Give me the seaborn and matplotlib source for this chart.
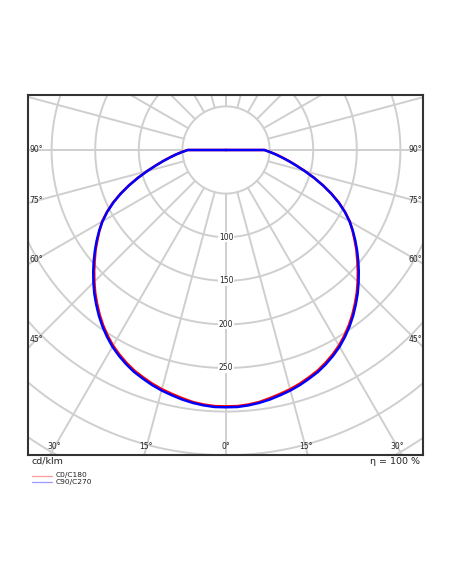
import numpy as np
import matplotlib
matplotlib.use("Agg")
import matplotlib.pyplot as plt
from matplotlib.lines import Line2D
import seaborn as sns

gamma = [0, 2.5, 5, 7.5, 10, 12.5, 15, 17.5, 20, 22.5, 25, 27.5, 30, 32.5, 35, 37.5, 40, 42.5, 45,
         47.5, 50, 52.5, 55, 57.5, 60, 62.5, 65, 67.5, 70, 72.5, 75, 77.5, 80, 82.5, 85, 87.5, 90, 95, 180]
c90_c270 = [295, 295, 294, 292.5, 290.5, 288, 285.5, 282.5, 279, 275.5, 271, 266, 260.5, 254, 247, 239.5,
            231.5, 223.5, 215, 206.5, 198, 189.5, 181, 172.5, 163.5, 153.5, 142.5, 130.5, 118, 105.5,
            93.5, 82.5, 73, 64.5, 57, 50, 44, 0, 0]
c0_c180 = [294, 294, 293, 291.5, 289, 286.5, 284, 281, 277.5, 274, 269.5, 264.5, 259, 252.5, 245.5, 238,
           230, 222, 213.5, 205, 196.5, 188.5, 180, 172, 164, 154, 143, 131, 118.5, 106, 94,
           83, 73.5, 65, 57.5, 50.5, 44, 0, 0]
serie_nomes = ['C0/C180', 'C90/C270']
serie_cores = ['#ff0000', '#0000ff']
anel_labels = [100, 150, 200, 250]
angulo_labels = [0, 15, 30, 45, 60, 75, 90]
eta_texto = 'η = 100 %'
unidade = 'cd/klm'

W, H = 452, 584
PX = 0.872  # pixels por cd/klm

sns.set_style('white')
fig = plt.figure(figsize=(W / 100, H / 100), dpi=100)
ax = fig.add_axes([28 / W, 1 - 455 / H, 395 / W, 360 / H])
xmin, xmax = -198 / PX, 197 / PX
ymin, ymax = -305 / PX, 55 / PX
ax.set_xlim(xmin, xmax)
ax.set_ylim(ymin, ymax)
ax.set_xticks([])
ax.set_yticks([])
for sp in ax.spines.values():
    sp.set_color('#333333')
    sp.set_linewidth(1.5)

# --- Grade polar ---
grid_kw = dict(color='#cfcfcf', lw=1.4, zorder=1)
t = np.linspace(0, 2 * np.pi, 400)
for r in range(50, 501, 50):
    ax.plot(r * np.cos(t), r * np.sin(t), **grid_kw)
for a in range(0, 360, 15):
    ar = np.radians(a)
    ax.plot([50 * np.sin(ar), 600 * np.sin(ar)], [-50 * np.cos(ar), -600 * np.cos(ar)], **grid_kw)


# --- Curvas ---
def polar_xy(g, v):
    g = np.radians(np.array(g, dtype=float))
    v = np.array(v, dtype=float)
    # lado esquerdo de 180 até 0, depois lado direito de 0 até 180
    x = np.concatenate([-(v * np.sin(g))[::-1], (v * np.sin(g))[1:]])
    y = np.concatenate([-(v * np.cos(g))[::-1], -(v * np.cos(g))[1:]])
    return x, y


for vals, cor in zip([c0_c180, c90_c270], serie_cores):
    x, y = polar_xy(gamma, vals)
    sns.lineplot(x=x, y=y, sort=False, estimator=None, color=cor, lw=1.8, ax=ax, zorder=3)

# --- Rótulos dos anéis ---
for r in anel_labels:
    ax.text(0, -r, str(r), ha='center', va='center', fontsize=5.5, color='#222222', zorder=4,
            bbox=dict(facecolor='white', edgecolor='none', pad=0.3))

# --- Rótulos dos ângulos (sobre o raio, 8 px para dentro da moldura) ---
ins = 8 / PX
for a in angulo_labels:
    ar = np.radians(a)
    for s in ([1] if a == 0 else [-1, 1]):
        yb = ymin + ins
        xb = s * (-yb) * np.tan(ar)
        xe = xmax - ins if s > 0 else xmin + ins
        if abs(xb) <= abs(xe):
            px, py = xb, yb
        else:
            px = xe
            py = -abs(xe) / np.tan(ar) if a < 90 else 0
        ax.text(px, py, f'{a}°', ha='center', va='center', fontsize=5.5, color='#222222', zorder=4)

# --- Textos externos ---
fig.text(32 / W, 1 - 461 / H, unidade, ha='left', va='center', fontsize=6.8, color='#222222')
fig.text(420 / W, 1 - 461 / H, eta_texto, ha='right', va='center', fontsize=6.8, color='#222222')

# --- Legenda ---
for i, (nome, cor) in enumerate(zip(serie_nomes, serie_cores)):
    yl = 1 - (475.5 + 6.5 * i) / H
    fig.add_artist(Line2D([32 / W, 52 / W], [yl, yl], color=cor, lw=0.9, alpha=0.4,
                          transform=fig.transFigure))
    fig.text(55.5 / W, yl, nome, ha='left', va='center', fontsize=5.4, color='#222222')

fig.savefig('out.png', dpi=100)
